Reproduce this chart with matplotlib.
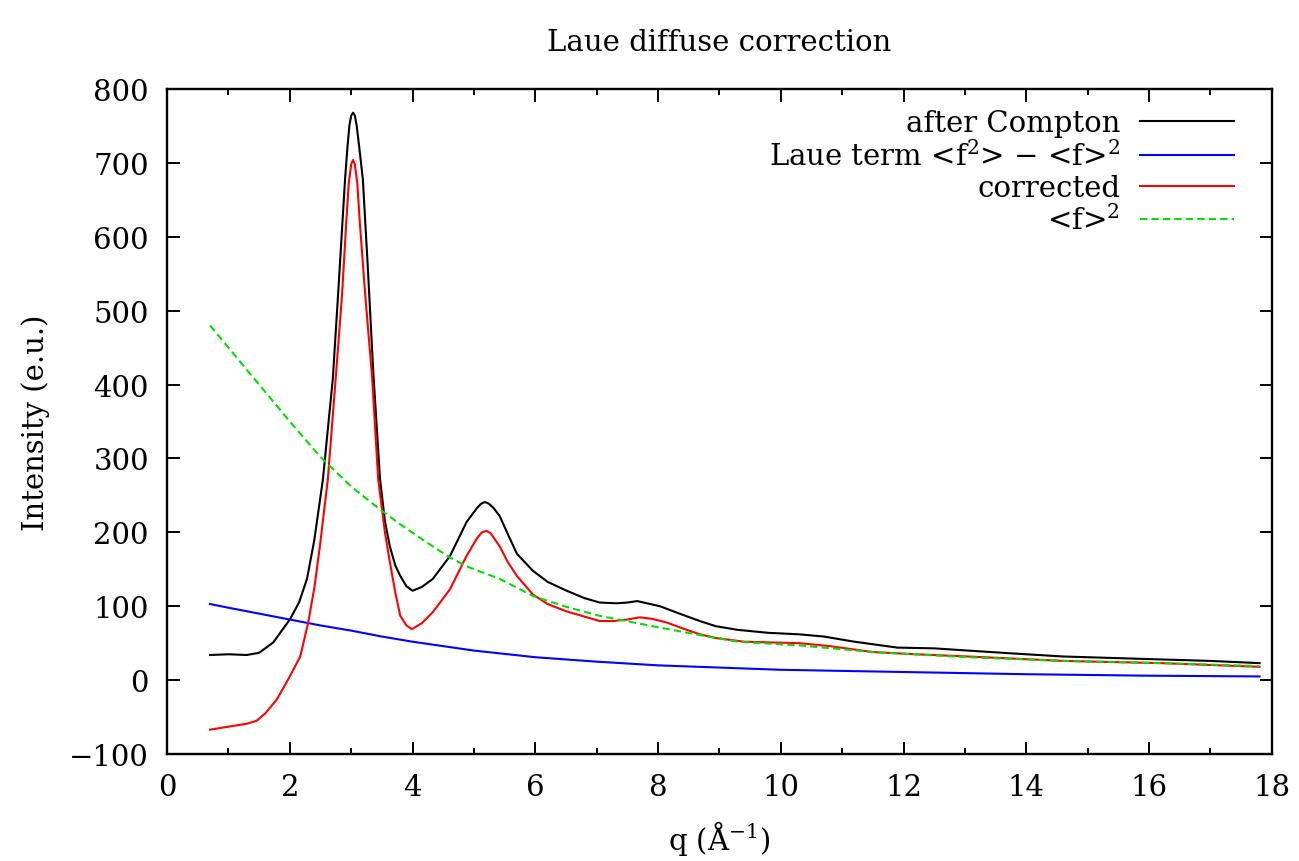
import matplotlib
matplotlib.use("Agg")
import matplotlib.pyplot as plt

plt.rcParams['font.family'] = ['DejaVu Serif']
plt.rcParams['mathtext.fontset'] = 'dejavuserif'

# after Compton (black)
q_compton = [0.7, 1.0, 1.3, 1.5, 1.73, 2.0, 2.15, 2.28, 2.4, 2.54, 2.62, 2.70, 2.80,
             2.90, 2.94, 2.97, 3.0, 3.03, 3.06, 3.09, 3.13, 3.19, 3.27, 3.36, 3.47,
             3.55, 3.63, 3.72, 3.80, 3.9, 4.0, 4.15, 4.33, 4.61, 4.88, 5.05,
             5.12, 5.18, 5.24, 5.32, 5.42, 5.55, 5.70, 5.96, 6.2, 6.51, 6.8, 7.05,
             7.33, 7.5, 7.66, 8.03, 8.35, 8.68, 8.94, 9.3, 9.8, 10.3, 10.7, 11.2,
             11.9, 12.5, 13.05, 13.8, 14.6, 15.4, 16.2, 17.0, 17.8]
i_compton = [34, 35, 34, 37, 51, 82, 105, 137, 190, 272, 340, 407, 540,
             678, 722, 750, 764, 768, 764, 750, 722, 678, 560, 417, 272,
             215, 181, 155, 141, 127, 121, 126, 137, 168, 214, 233,
             239, 241, 239, 233, 222, 198, 171, 148, 133, 121, 111, 105,
             104, 105, 107, 100, 90, 80, 73, 68, 64, 62, 59, 52,
             44, 43, 40, 36, 32, 30, 28, 26, 23]

# Laue term (blue)
q_laue = [0.7, 1.0, 1.5, 2.0, 2.5, 3.0, 3.5, 4.0, 5.0, 6.0, 7.0, 8.0, 9.0, 10.0,
          12.0, 14.0, 16.0, 17.8]
i_laue = [103, 98, 90, 82, 74, 67, 59, 52, 40, 31, 25, 20, 17, 14, 11, 8, 6, 5]

# corrected (red)
q_corr = [0.7, 1.0, 1.3, 1.46, 1.6, 1.79, 2.0, 2.17, 2.3, 2.4, 2.49, 2.62, 2.75,
          2.85, 2.92, 2.96, 3.0, 3.03, 3.06, 3.1, 3.14, 3.23, 3.34, 3.44, 3.55,
          3.63, 3.72, 3.80, 3.9, 3.99, 4.15, 4.33, 4.61, 4.88, 5.05, 5.13,
          5.2, 5.27, 5.42, 5.55, 5.70, 5.96, 6.2, 6.51, 6.8, 7.05, 7.27, 7.5,
          7.7, 7.9, 8.14, 8.4, 8.68, 8.94, 9.4, 10.3, 10.8, 11.5, 12.2, 13.05,
          14.6, 16.2, 17.8]
i_corr = [-67, -63, -59, -55, -45, -26, 5, 32, 78, 125, 181, 272, 411,
          520, 620, 672, 698, 704, 698, 672, 620, 520, 411, 272, 200,
          160, 118, 87, 74, 69, 77, 92, 123, 168, 192, 200,
          202, 199, 181, 160, 141, 116, 103, 93, 86, 80, 80, 82,
          85, 83, 78, 70, 62, 57, 52, 50, 46, 38, 35, 32,
          26, 23, 18]

# <f>^2 (green, dashed)
q_fsq = [0.7, 1.0, 1.43, 2.0, 2.5, 3.0, 3.47, 3.8, 4.2, 4.61, 4.88, 5.42, 5.96,
         6.51, 7.05, 7.6, 8.1, 8.68, 9.3, 10.3, 11.5, 13.05, 14.6, 16.2, 17.8]
i_fsq = [480, 450, 407, 350, 302, 262, 231, 211, 188, 166, 154, 137, 114,
         99, 87, 78, 70, 61, 52, 47, 38, 31, 26, 23, 19]

fig = plt.figure(figsize=(12.99, 8.62), dpi=100)
ax = fig.add_axes([0.1286, 0.1241, 0.8505, 0.7715])

ax.plot(q_compton, i_compton, color='black', lw=1.5, label='after Compton')
ax.plot(q_laue, i_laue, color='#0000ff', lw=1.5,
        label=r'Laue term <f$^{2}$> $-$ <f>$^{2}$')
ax.plot(q_corr, i_corr, color='#ff0000', lw=1.5, label='corrected')
ax.plot(q_fsq, i_fsq, color='#00e000', lw=1.5, dashes=(3.5, 2),
        label=r'<f>$^{2}$')

ax.set_xlim(0, 18)
ax.set_ylim(-100, 800)
ax.set_xticks(range(0, 19, 2))
ax.set_xticks(range(1, 18, 2), minor=True)
ax.set_yticks(range(-100, 801, 100))

ax.tick_params(which='both', direction='in', top=True, right=True,
               labelsize=21, width=1.4)
ax.tick_params(which='major', length=9)
ax.tick_params(which='minor', length=4.5)
ax.tick_params(axis='x', pad=14)
ax.tick_params(axis='y', pad=13)
for s in ax.spines.values():
    s.set_linewidth(1.7)

ax.set_title('Laue diffuse correction', fontsize=21, pad=28)
ax.set_xlabel(r'q ($\mathrm{\AA}^{-1}$)', fontsize=21, labelpad=12)
ax.set_ylabel('Intensity (e.u.)', fontsize=21, labelpad=14)

ax.legend(loc='upper right', frameon=False, markerfirst=False, fontsize=21,
          handlelength=3.2, handletextpad=0.7, labelspacing=0.1,
          borderaxespad=0.3, bbox_to_anchor=(0.984, 1.0))

fig.savefig('out.png', dpi=100)
